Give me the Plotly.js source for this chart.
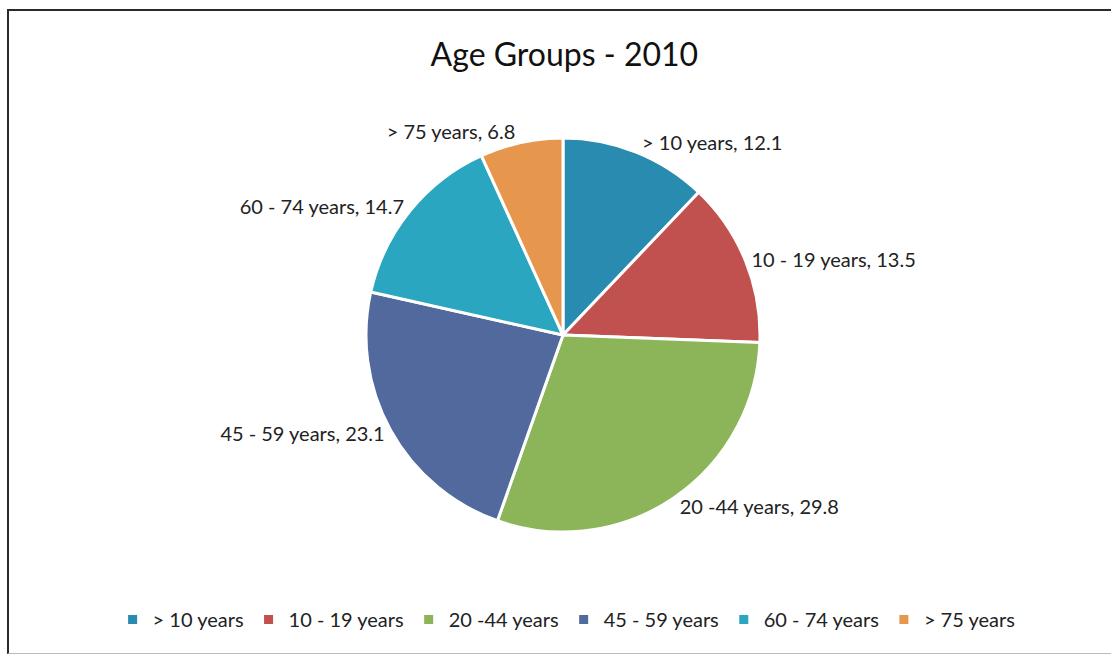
<!DOCTYPE html>
<html><head><meta charset="utf-8">
<script src="https://cdn.plot.ly/plotly-3.0.1.min.js"></script>
<style>
html,body{margin:0;padding:0;background:#fff;}
#wrap{position:relative;width:1111px;height:656px;}
#chart{width:1111px;height:656px;}
#frame{position:absolute;left:7px;top:9px;width:1104px;height:645px;border-left:2px solid #2a2a2a;border-top:2px solid #2a2a2a;border-bottom:1px solid #bbb;box-sizing:border-box;pointer-events:none;}
</style></head>
<body><div id="wrap"><div id="chart"></div><div id="frame"></div></div>
<script>
const categories = ["> 10 years", "10 - 19 years", "20 -44 years", "45 - 59 years", "60 - 74 years", "> 75 years"];
const values = [12.1, 13.5, 29.8, 23.1, 14.7, 6.8];
const colors = ["#2a8bb0", "#c0514f", "#8cb55a", "#51699c", "#2aa6c0", "#e6964d"];

const FONT = "Lato, 'Open Sans', sans-serif";
const trace = {
  type: "pie",
  labels: categories,
  values: values,
  sort: false,
  direction: "clockwise",
  rotation: 0,
  marker: {colors: colors, line: {color: "#ffffff", width: 3}},
  textposition: "outside",
  texttemplate: "%{label}, %{value}",
  textfont: {family: FONT, size: 20, color: "#222"},
  hoverinfo: "label+value",
  domain: {x: [0.3294, 0.6841], y: [0.189, 0.7896]},
  automargin: false
};

const layout = {
  width: 1111, height: 656,
  margin: {l: 0, r: 0, t: 0, b: 0},
  paper_bgcolor: "#fff",
  title: {text: "Age Groups - 2010", font: {family: FONT, size: 32, color: "#111"}, x: 0.508, xanchor: "center", y: 0.916, yanchor: "middle"},
  showlegend: true,
  legend: {orientation: "h", x: 0.51, xanchor: "center", y: 0.026, yanchor: "bottom", font: {family: FONT, size: 20, color: "#222"}, traceorder: "normal", itemwidth: 30},
};
Plotly.newPlot("chart", [trace], layout, {displayModeBar: false, staticPlot: true});
</script></body></html>
